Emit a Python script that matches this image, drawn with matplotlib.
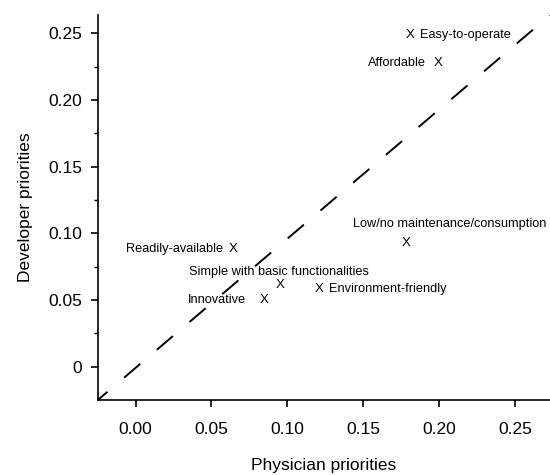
import matplotlib
matplotlib.use("Agg")
import matplotlib.pyplot as plt
import numpy as np

plt.rcParams['font.family'] = ['Liberation Sans', 'DejaVu Sans']

labels = ["Easy-to-operate", "Affordable", "Low/no maintenance/consumption",
          "Readily-available", "Simple with basic functionalities",
          "Innovative", "Environment-friendly"]
physician = [0.181, 0.199, 0.178, 0.064, 0.095, 0.085, 0.121]
developer = [0.249, 0.228, 0.093, 0.088, 0.061, 0.050, 0.058]

# label offsets (pixels) and alignment
offsets = [(10, 0, 'left'), (-12, 0, 'right'), (-53, 19, 'left'),
           (-10, 0, 'right'), (-91, 13, 'left'), (-19, 0, 'right'), (10, 0, 'left')]

fig = plt.figure(figsize=(5.5, 4.75), dpi=100)
ax = fig.add_axes([0.178, 0.158, 0.822, 0.81])

xlo, xhi = -0.0248, 0.273
ylo, yhi = -0.025, 0.2635
ax.set_xlim(xlo, xhi)
ax.set_ylim(ylo, yhi)

# dashed diagonal across the axes box
ax.plot([0, 1], [0, 1], transform=ax.transAxes, color='black', lw=1.4,
        linestyle=(4.4, (10.9, 11.2)))

for x, y in zip(physician, developer):
    ax.text(x, y, "X", fontsize=9.5, ha='center', va='center')

for lab, x, y, (dx, dy, ha) in zip(labels, physician, developer, offsets):
    ax.annotate(lab, (x, y), xytext=(dx * 0.72, dy * 0.72), textcoords='offset points',
                ha=ha, va='center', fontsize=9.2, annotation_clip=False)

for s in ['top', 'right']:
    ax.spines[s].set_visible(False)
ax.spines['left'].set_linewidth(1.2)
ax.spines['bottom'].set_linewidth(1.2)

ax.set_xticks([0.00, 0.05, 0.10, 0.15, 0.20, 0.25])
ax.set_xticklabels(["0.00", "0.05", "0.10", "0.15", "0.20", "0.25"])
ax.set_yticks([0, 0.05, 0.10, 0.15, 0.20, 0.25])
ax.set_yticklabels(["0", "0.05", "0.10", "0.15", "0.20", "0.25"])
ax.set_yticks([0.025, 0.075, 0.125, 0.175, 0.225], minor=True)
ax.tick_params(axis='both', which='major', direction='out', length=5, width=1.2,
               labelsize=12.5)
ax.tick_params(axis='x', which='major', pad=11)
ax.tick_params(axis='y', which='major', pad=6.5)
ax.tick_params(axis='y', which='minor', direction='out', length=3, width=1.0)

ax.set_xlabel("Physician priorities", fontsize=12.5, labelpad=15)
ax.set_ylabel("Developer priorities", fontsize=12.5, labelpad=11)

fig.savefig("out.png", dpi=100)
